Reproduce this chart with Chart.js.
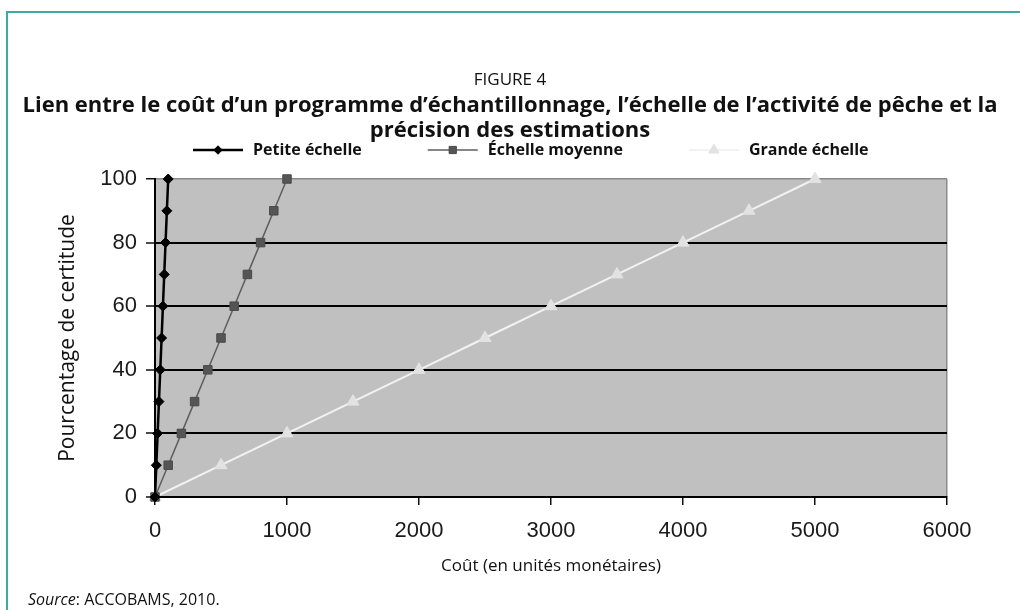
<!DOCTYPE html>
<html lang="fr">
<head>
<meta charset="utf-8">
<title>Figure 4</title>
<script src="https://cdn.jsdelivr.net/npm/chart.js@4.4.1/dist/chart.umd.min.js"></script>
<style>
    html, body { margin: 0; padding: 0; background: #fff; }
    #page { position: relative; width: 1020px; height: 610px; overflow: hidden; font-family: "Open Sans", sans-serif; color: #111; }
    #frame { position: absolute; left: 6px; top: 11px; right: 0; bottom: -4px; border-top: 2px solid #3eaaa4; border-left: 2px solid #3eaaa4; }
    #chart { position: absolute; left: 0; top: 0; }
    .head { position: absolute; left: 0; width: 1020px; text-align: center; white-space: nowrap; line-height: 25px; }
    #fig { top: 66px; font-size: 17px; }
    #title { top: 91px; font-size: 22px; font-weight: 700; }
    #source { position: absolute; left: 28px; top: 589px; font-size: 16px; line-height: 20px; }
</style>
</head>
<body>
<div id="page">
    <div id="frame"></div>
    <canvas id="chart" width="1020" height="610"></canvas>
    <div class="head" id="fig">FIGURE 4</div>
    <div class="head" id="title">Lien entre le coût d’un programme d’échantillonnage, l’échelle de l’activité de pêche et la<br>précision des estimations</div>
    <div id="source"><i>Source</i>: ACCOBAMS, 2010.</div>
</div>
<script>
// Data
const certitude = [0, 10, 20, 30, 40, 50, 60, 70, 80, 90, 100];
const coutPetite = [0, 10, 20, 30, 40, 50, 60, 70, 80, 90, 100];
const coutMoyenne = [0, 100, 200, 300, 400, 500, 600, 700, 800, 900, 1000];
const coutGrande = [0, 500, 1000, 1500, 2000, 2500, 3000, 3500, 4000, 4500, 5000];
const seriesNames = ["Petite échelle", "Échelle moyenne", "Grande échelle"];
const xTickValues = [0, 1000, 2000, 3000, 4000, 5000, 6000];
const yTickValues = [0, 20, 40, 60, 80, 100];

function toPoints(costs) {
    return costs.map((c, i) => ({ x: c, y: certitude[i] }));
}

// grey plot background
const plotBackground = {
    id: "plotBackground",
    beforeDraw(chart) {
        const { ctx, chartArea } = chart;
        ctx.save();
        ctx.fillStyle = "#c0c0c0";
        ctx.fillRect(chartArea.left, chartArea.top, chartArea.width, chartArea.height);
        ctx.restore();
    },
};

// legend with a line and the marker in the middle
const lineLegend = {
    id: "lineLegend",
    afterDraw(chart, args, opts) {
        const ctx = chart.ctx;
        let x = opts.x;
        ctx.save();
        ctx.font = opts.font;
        ctx.textBaseline = "middle";
        chart.data.datasets.forEach((ds) => {
            ctx.strokeStyle = ds.borderColor;
            ctx.lineWidth = ds.borderWidth;
            ctx.beginPath();
            ctx.moveTo(x, opts.y);
            ctx.lineTo(x + opts.lineLength, opts.y);
            ctx.stroke();
            ctx.fillStyle = ds.pointBackgroundColor;
            ctx.strokeStyle = ds.pointBorderColor;
            ctx.lineWidth = 1;
            Chart.helpers.drawPoint(ctx, {
                pointStyle: ds.pointStyle,
                radius: ds.pointRadius * 0.85,
                rotation: 0,
                borderWidth: 1,
            }, x + opts.lineLength / 2, opts.y);
            ctx.fillStyle = "#111";
            const tx = x + opts.lineLength + opts.gap;
            ctx.fillText(ds.label, tx, opts.y);
            x = tx + ctx.measureText(ds.label).width + opts.spacing;
        });
        ctx.restore();
    },
};

const datasets = [
    {
        label: seriesNames[0],
        data: toPoints(coutPetite),
        borderColor: "#000",
        borderWidth: 2.5,
        pointStyle: "rectRot",
        pointRadius: 5,
        pointBackgroundColor: "#000",
        pointBorderColor: "#000",
    },
    {
        label: seriesNames[1],
        data: toPoints(coutMoyenne),
        borderColor: "#5e5e5e",
        borderWidth: 1.5,
        pointStyle: "rect",
        pointRadius: 6,
        pointBackgroundColor: "#555",
        pointBorderColor: "#4a4a4a",
    },
    {
        label: seriesNames[2],
        data: toPoints(coutGrande),
        borderColor: "#f2f2f2",
        borderWidth: 2,
        pointStyle: "triangle",
        pointRadius: 7,
        pointBackgroundColor: "#e2e2e2",
        pointBorderColor: "#e2e2e2",
    },
];
datasets.forEach((ds) => {
    ds.showLine = true;
    ds.clip = false;
    ds.pointBorderWidth = 1;
    ds.pointHoverRadius = ds.pointRadius;
});

const tickFont = { family: "'Liberation Sans', Arial, sans-serif", size: 22 };

new Chart(document.getElementById("chart").getContext("2d"), {
    type: "scatter",
    data: { datasets: datasets },
    plugins: [plotBackground, lineLegend],
    options: {
        responsive: false,
        animation: false,
        events: [],
        layout: { padding: { left: 50, top: 179, right: 73, bottom: 10 } },
        plugins: {
            legend: { display: false },
            tooltip: { enabled: false },
            lineLegend: {
                x: 193,
                y: 150,
                lineLength: 50,
                gap: 10,
                spacing: 66,
                font: "bold 16px 'Open Sans', sans-serif",
            },
        },
        scales: {
            x: {
                type: "linear",
                min: 0,
                max: 6000,
                afterBuildTicks: (scale) => {
                    scale.ticks = xTickValues.map((v) => ({ value: v }));
                },
                afterFit: (scale) => {
                    scale.height = 103;
                },
                ticks: {
                    font: tickFont,
                    color: "#1a1a1a",
                    padding: 13,
                    maxRotation: 0,
                    callback: (v) => String(v),
                },
                grid: {
                    drawOnChartArea: true,
                    color: (c) => (c.tick && c.tick.value === 6000 ? "#8a8a8a" : "rgba(0,0,0,0)"),
                    lineWidth: 1.5,
                    tickColor: "#111",
                    tickLength: 8,
                    tickWidth: 1.5,
                },
                border: { display: true, color: "#000", width: 2 },
                title: {
                    display: true,
                    text: "Coût (en unités monétaires)",
                    font: { family: "'Open Sans', sans-serif", size: 17 },
                    color: "#111",
                    padding: { top: 0, bottom: 24 },
                },
            },
            y: {
                type: "linear",
                min: 0,
                max: 100,
                afterBuildTicks: (scale) => {
                    scale.ticks = yTickValues.map((v) => ({ value: v }));
                },
                afterFit: (scale) => {
                    scale.width = 105;
                },
                ticks: { font: tickFont, color: "#1a1a1a", padding: 9, callback: (v) => String(v) },
                grid: {
                    color: (c) => (c.tick && c.tick.value === 100 ? "#8a8a8a" : "#000"),
                    lineWidth: (c) => (c.tick && c.tick.value === 100 ? 1.5 : 2),
                    tickColor: "#111",
                    tickLength: 9,
                    tickWidth: 1.5,
                },
                border: { display: true, color: "#000", width: 2 },
                title: {
                    display: true,
                    text: "Pourcentage de certitude",
                    font: { family: "'Open Sans', sans-serif", size: 21 },
                    color: "#111",
                    padding: { top: 5, bottom: 0 },
                },
            },
        },
    },
});
</script>
</body>
</html>
